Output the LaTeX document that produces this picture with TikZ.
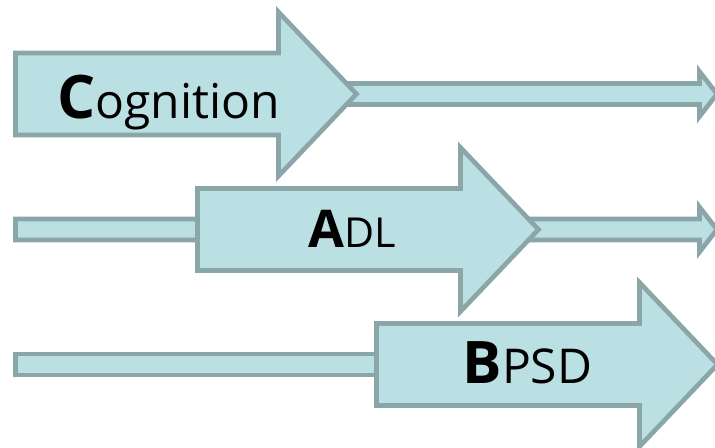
\documentclass[tikz,border=0pt]{standalone}
\usepackage{fontspec}
\setmainfont{Open Sans}

\definecolor{arrowfill}{RGB}{187,224,227}
\definecolor{arrowline}{RGB}{138,166,168}

\tikzset{every picture/.style={line width=0.75pt}}
\tikzset{blockarrow/.style={draw=arrowline, fill=arrowfill, line width=3.5pt, miter limit=10}}
\tikzset{arrowlabel/.style={anchor=base, inner sep=0pt, text=black}}

\begin{document}
\begin{tikzpicture}[x=0.75pt,y=0.75pt,yscale=-1,xscale=1]
	\useasboundingbox (0,0) rectangle (715,447);

	%Shape: Thin Right Arrow (row 1)
	\draw [blockarrow] (320,83.5) -- (699.5,83.5) -- (699.5,71.5) -- (717,94) -- (699.5,116.5) -- (699.5,104.5) -- (320,104.5) -- cycle ;
	%Shape: Thin Right Arrow (row 2)
	\draw [blockarrow] (15.5,219) -- (699.5,219) -- (699.5,207) -- (717,229.5) -- (699.5,252) -- (699.5,240) -- (15.5,240) -- cycle ;
	%Shape: Thin Bar (row 3)
	\draw [blockarrow] (15.5,354) -- (400,354) -- (400,375) -- (15.5,375) -- cycle ;

	%Shape: Right Arrow (Cognition)
	\draw [blockarrow] (15.5,53) -- (278.5,53) -- (278.5,12) -- (356.5,94) -- (278.5,176) -- (278.5,135) -- (15.5,135) -- cycle ;
	%Shape: Right Arrow (ADL)
	\draw [blockarrow] (197.5,188.5) -- (460.5,188.5) -- (460.5,147.5) -- (538.5,229.5) -- (460.5,311.5) -- (460.5,270.5) -- (197.5,270.5) -- cycle ;
	%Shape: Right Arrow (BPSD)
	\draw [blockarrow] (376.5,323.5) -- (639.5,323.5) -- (639.5,282.5) -- (717.5,364.5) -- (639.5,446.5) -- (639.5,405.5) -- (376.5,405.5) -- cycle ;

	% Text Node
	\node (cognition) [arrowlabel] at (168.5,118) {\fontsize{45}{54}\selectfont\textbf{C}\fontsize{36}{43}\selectfont ognition};
	% Text Node
	\node (adl) [arrowlabel] at (352.5,247) {\fontsize{39}{47}\selectfont\textbf{A}\fontsize{31}{37}\selectfont DL};
	% Text Node
	\node (bpsd) [arrowlabel] at (527.5,383) {\fontsize{44}{53}\selectfont\textbf{B}\fontsize{36}{43}\selectfont PSD};

\end{tikzpicture}
\end{document}
